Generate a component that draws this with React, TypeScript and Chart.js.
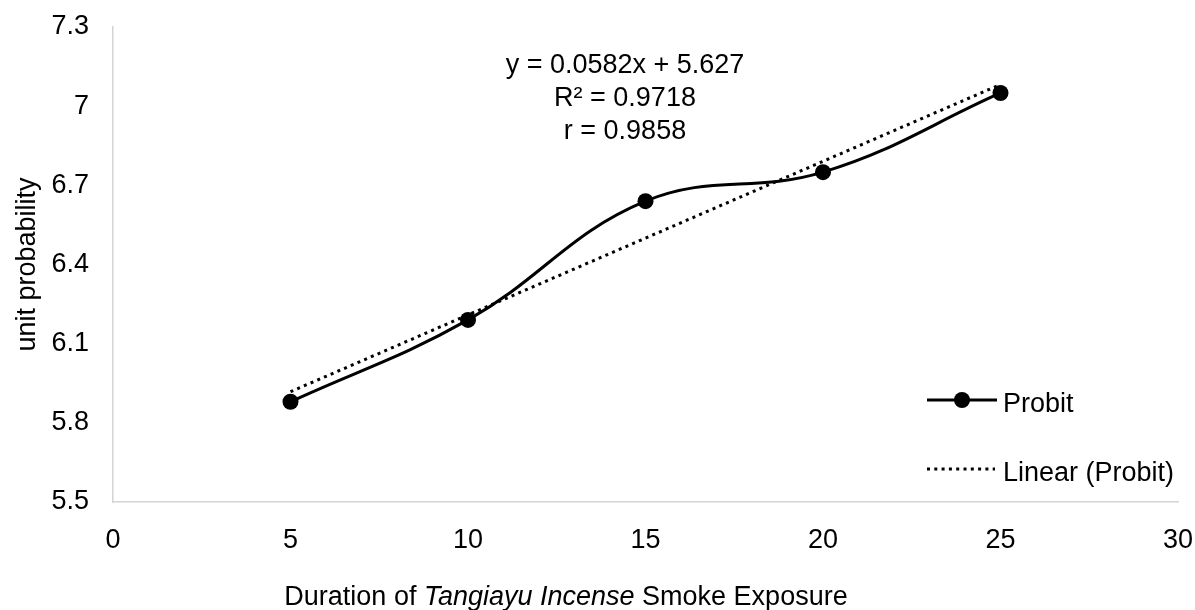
import React, { useEffect, useRef } from "react";
import { Chart, registerables } from "chart.js";

Chart.register(...registerables);

const FONT = '"Liberation Sans", Arial, sans-serif';

// ---- data ----
const durations = [5, 10, 15, 20, 25];
const probit = [5.88, 6.19, 6.64, 6.75, 7.05];
const trendX = [5, 25];
const trendY = [5.918, 7.082];
const yTicks = [5.5, 5.8, 6.1, 6.4, 6.7, 7, 7.3];
const xTicks = [0, 5, 10, 15, 20, 25, 30];
const seriesNames = ["Probit", "Linear (Probit)"];
const equationLines = ["y = 0.0582x + 5.627", "R² = 0.9718", "r = 0.9858"];
const yTitle = "unit probability";
const xTitleParts = [
  { text: "Duration of ", italic: false },
  { text: "Tangiayu Incense", italic: true },
  { text: " Smoke Exposure", italic: false },
];

const overlayPlugin = {
  id: "overlay",
  afterDraw(chart: any) {
    const ctx: CanvasRenderingContext2D = chart.ctx;
    ctx.save();
    ctx.fillStyle = "#000";
    ctx.strokeStyle = "#000";

    // equation annotation
    ctx.font = `27px ${FONT}`;
    ctx.textAlign = "center";
    ctx.textBaseline = "alphabetic";
    equationLines.forEach((t, i) => ctx.fillText(t, 625, 73 + i * 33));

    // legend
    ctx.textAlign = "left";
    ctx.lineWidth = 3;
    ctx.setLineDash([]);
    ctx.beginPath();
    ctx.moveTo(927, 400);
    ctx.lineTo(997, 400);
    ctx.stroke();
    ctx.beginPath();
    ctx.arc(962, 400, 8, 0, Math.PI * 2);
    ctx.fill();
    ctx.fillText(seriesNames[0], 1003, 412);

    ctx.setLineDash([3, 4.3]);
    ctx.beginPath();
    ctx.moveTo(927, 469);
    ctx.lineTo(995, 469);
    ctx.stroke();
    ctx.setLineDash([]);
    ctx.fillText(seriesNames[1], 1003, 481);

    // x axis title with italic part
    const widths = xTitleParts.map((p) => {
      ctx.font = `${p.italic ? "italic " : ""}27px ${FONT}`;
      return ctx.measureText(p.text).width;
    });
    const total = widths.reduce((a, b) => a + b, 0);
    let x = 566 - total / 2;
    xTitleParts.forEach((p, i) => {
      ctx.font = `${p.italic ? "italic " : ""}27px ${FONT}`;
      ctx.fillText(p.text, x, 605);
      x += widths[i];
    });
    ctx.restore();
  },
};

export default function App() {
  const canvasRef = useRef<HTMLCanvasElement | null>(null);

  useEffect(() => {
    if (!canvasRef.current) return;
    Chart.defaults.font.family = FONT;
    const chart = new Chart(canvasRef.current, {
      type: "scatter",
      data: {
        datasets: [
          {
            label: seriesNames[0],
            data: durations.map((d, i) => ({ x: d, y: probit[i] })),
            showLine: true,
            borderColor: "#000",
            backgroundColor: "#000",
            borderWidth: 3,
            tension: 0.4,
            pointRadius: 8,
            pointBorderWidth: 0,
            pointBackgroundColor: "#000",
          },
          {
            label: seriesNames[1],
            data: trendX.map((d, i) => ({ x: d, y: trendY[i] })),
            showLine: true,
            borderColor: "#000",
            borderWidth: 3,
            borderDash: [3, 4.3],
            pointRadius: 0,
            tension: 0,
          },
        ],
      },
      options: {
        animation: false,
        responsive: false,
        devicePixelRatio: 1,
        layout: { padding: { top: 27, right: 17, left: 0, bottom: 0 } },
        plugins: {
          legend: { display: false },
          tooltip: { enabled: false },
        },
        scales: {
          x: {
            type: "linear",
            min: 0,
            max: 30,
            afterBuildTicks: (scale: any) => {
              scale.ticks = xTicks.map((v) => ({ value: v }));
            },
            afterFit: (scale: any) => {
              scale.height = 108;
              scale.paddingLeft = 0;
              scale.paddingRight = 0;
            },
            grid: { display: false, drawTicks: false },
            border: { display: true, color: "#d4d4d4", width: 1.5 },
            ticks: {
              color: "#000",
              font: { size: 27 },
              padding: 22,
              maxRotation: 0,
              callback: (v: any) => String(v),
            },
          },
          y: {
            type: "linear",
            min: 5.5,
            max: 7.3,
            afterBuildTicks: (scale: any) => {
              scale.ticks = yTicks.map((v) => ({ value: v }));
            },
            afterFit: (scale: any) => {
              scale.width = 113;
              scale.paddingTop = 0;
              scale.paddingBottom = 0;
            },
            grid: { display: false, drawTicks: false },
            border: { display: true, color: "#d4d4d4", width: 1.5 },
            ticks: {
              color: "#000",
              font: { size: 27 },
              padding: 24,
              callback: (v: any) => String(v),
            },
            title: {
              display: true,
              text: yTitle,
              color: "#000",
              font: { size: 27 },
              padding: { top: 11, bottom: 0 },
            },
          },
        },
      },
      plugins: [overlayPlugin],
    });
    return () => chart.destroy();
  }, []);

  return (
    <div style={{ position: "fixed", left: 0, top: 0, width: 1195, height: 610, background: "#fff" }}>
      <canvas ref={canvasRef} width={1195} height={610} style={{ display: "block" }} />
    </div>
  );
}
